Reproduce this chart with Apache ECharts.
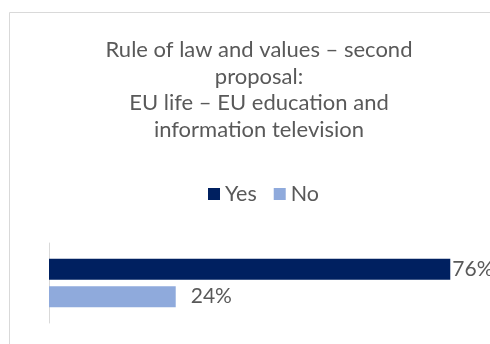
<!DOCTYPE html>
<html>
<head>
<meta charset="utf-8">
<script src="https://cdn.jsdelivr.net/npm/echarts@6/dist/echarts.min.js"></script>
<style>
  html, body { margin: 0; padding: 0; background: #fff; }
  #chart { width: 490px; height: 344px; }
</style>
</head>
<body>
<div id="chart"></div>
<script>
// Survey result: share of answers per option
const categories = ['Rule of law and values'];
const seriesNames = ['Yes', 'No'];
const yesValues = [76];
const noValues = [24];
const titleText = 'Rule of law and values – second\nproposal:\nEU life – EU education and\ninformation television';

const font = 'Lato, "Open Sans", sans-serif';
const textColor = '#595959';

const chart = echarts.init(document.getElementById('chart'), null, { renderer: 'canvas' });

chart.setOption({
  animation: false,
  backgroundColor: '#ffffff',
  graphic: [{
    type: 'rect',
    shape: { x: 9.5, y: 12.5, width: 520, height: 400 },
    style: { fill: 'none', stroke: '#d9d9d9', lineWidth: 1 },
    silent: true
  }],
  title: {
    text: titleText,
    left: 254,
    textAlign: 'center',
    top: 32,
    textStyle: {
      fontFamily: font,
      fontSize: 22,
      fontWeight: 'normal',
      color: textColor,
      lineHeight: 26.5
    }
  },
  legend: {
    data: seriesNames,
    left: 203,
    top: 178,
    itemWidth: 12,
    itemHeight: 12,
    itemGap: 17,
    icon: 'rect',
    textStyle: { fontFamily: font, fontSize: 21.5, color: textColor }
  },
  // the value axis runs on past the right edge, so 100% sits outside the view
  grid: { left: 49, width: 528, top: 243, height: 80, containLabel: false, outerBoundsMode: 'none' },
  xAxis: {
    type: 'value',
    min: 0,
    max: 100,
    show: false
  },
  yAxis: {
    type: 'category',
    data: categories,
    inverse: true,
    axisLine: { show: true, lineStyle: { color: '#d9d9d9', width: 1 } },
    axisTick: { show: false },
    axisLabel: { show: false }
  },
  series: [
    {
      name: seriesNames[0],
      type: 'bar',
      data: yesValues,
      barWidth: 21,
      barGap: '30%',
      itemStyle: { color: '#002060' },
      label: {
        show: true,
        position: 'right',
        distance: 2,
        formatter: '{c}%',
        fontFamily: font,
        fontSize: 21,
        color: textColor
      }
    },
    {
      name: seriesNames[1],
      type: 'bar',
      data: noValues,
      barWidth: 21,
      itemStyle: { color: '#8faadc' },
      label: {
        show: true,
        position: 'right',
        distance: 15,
        formatter: '{c}%',
        fontFamily: font,
        fontSize: 21,
        color: textColor
      }
    }
  ]
});
</script>
</body>
</html>
